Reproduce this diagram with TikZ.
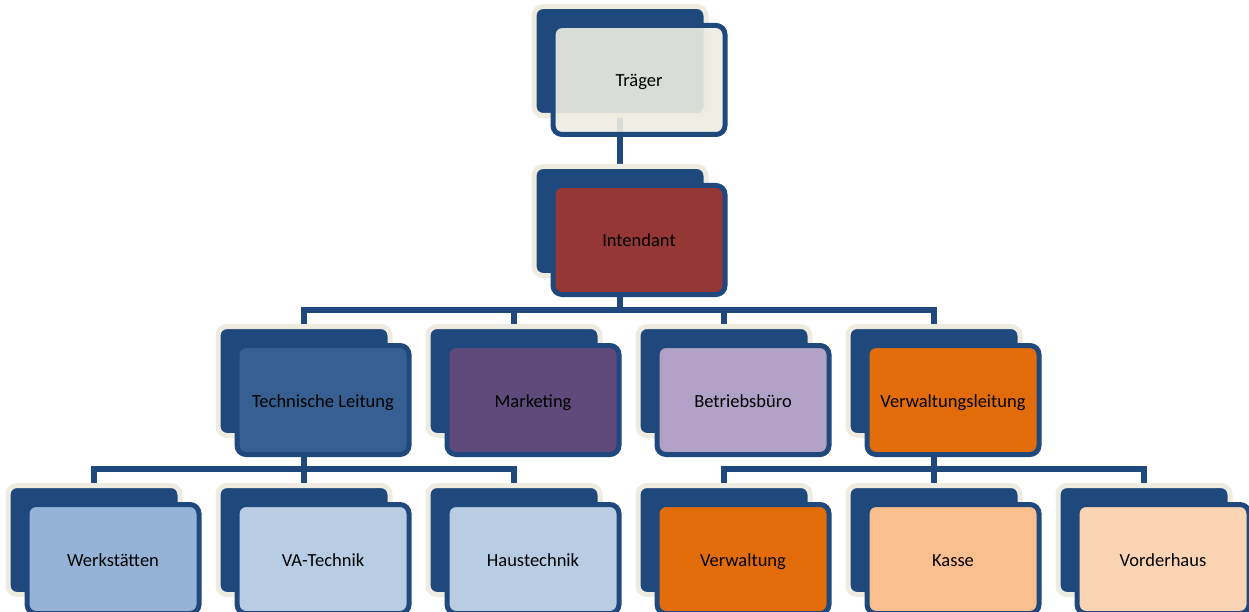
\documentclass[tikz,border=0pt]{standalone}
\usepackage{fontspec}
\setmainfont{Carlito}
\usetikzlibrary{positioning,backgrounds}
\definecolor{navy}{HTML}{1F497D}
\definecolor{cream}{HTML}{EEECE1}
\definecolor{wine}{HTML}{953735}
\definecolor{steel}{HTML}{366092}
\definecolor{plum}{HTML}{604A7B}
\definecolor{lilac}{HTML}{B2A1C7}
\definecolor{rust}{HTML}{E36C0A}
\definecolor{sky}{HTML}{95B3D7}
\definecolor{pale}{HTML}{B8CCE4}
\definecolor{peach}{HTML}{FABF8F}
\definecolor{apricot}{HTML}{FBD4B4}

\begin{document}
\begin{tikzpicture}[x=1pt,y=-1pt,
    back/.style={rectangle,rounded corners=9pt,minimum width=172pt,minimum height=109pt,
      inner sep=0pt,outer sep=0pt,fill=navy,draw=cream,line width=5pt},
    front/.style={rectangle,rounded corners=9pt,minimum width=172pt,minimum height=109pt,
      inner sep=0pt,outer sep=0pt,draw=navy,line width=5pt,text=black,
      text height=14pt,text depth=0pt,font=\fontsize{18.5}{22}\selectfont},
    link/.style={draw=navy,line width=5.5pt}]
  \useasboundingbox (0,0) rectangle (1249,612);
  % top
  \node[back] (traeger-b) at (620,61) {};
  \node[front,fill=cream,fill opacity=0.9,text opacity=1] (traeger) at (639,80) {Träger};
  % boxes
  \foreach \n/\x/\y/\c/\t in {intendant/639/240/wine/Intendant,
      tech/323/400/steel/Technische Leitung, marketing/533/400/plum/Marketing,
      buero/743/400/lilac/Betriebsbüro, vwl/953/400/rust/Verwaltungsleitung,
      werk/113/559/sky/Werkstätten, vatech/323/559/pale/VA-Technik,
      haus/533/559/pale/Haustechnik, verw/743/559/rust/Verwaltung,
      kasse/953/559/peach/Kasse, vorder/1163/559/apricot/Vorderhaus} {
    \node[back] (\n-b) at (\x-19,\y-19) {};
    \node[front,fill=\c] (\n) at (\x,\y) {\t};
  }
  % lines
  \begin{scope}[on background layer]
    \draw[link] (traeger-b.south) -- (intendant-b.north);
    \foreach \c in {tech,marketing,buero,vwl}
      \draw[link] (intendant-b.south) -- ++(0,34.5) -| (\c-b.north);
    \foreach \c in {werk,vatech,haus}
      \draw[link] (tech-b.south) -- ++(0,33.5) -| (\c-b.north);
    \foreach \c in {verw,kasse,vorder}
      \draw[link] (vwl-b.south) -- ++(0,33.5) -| (\c-b.north);
  \end{scope}
\end{tikzpicture}
\end{document}
